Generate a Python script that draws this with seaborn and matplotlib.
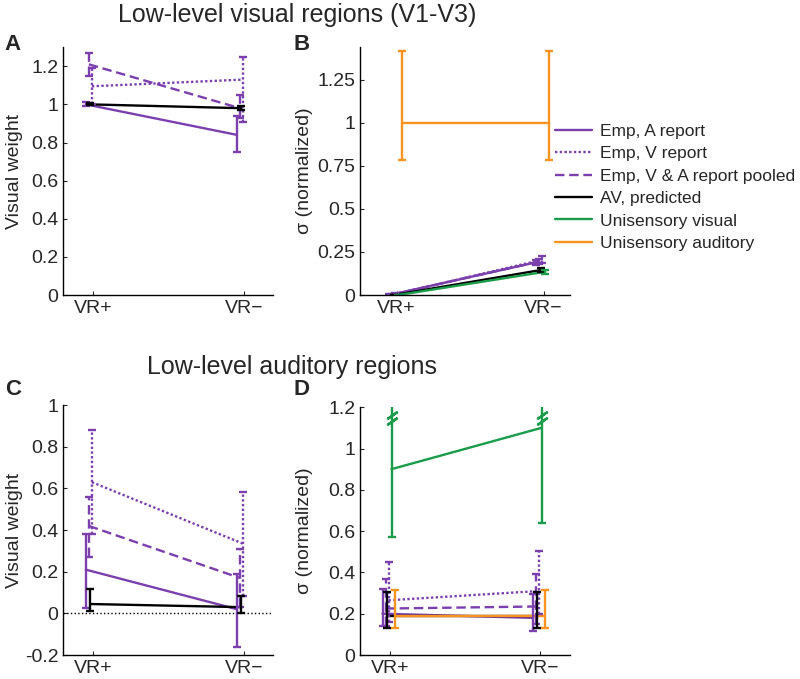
import numpy as np
import pandas as pd
import matplotlib
matplotlib.use("Agg")
import matplotlib.pyplot as plt
import seaborn as sns

# Data
conds = ["VR+", "VR\u2212"]
series = ["Emp, A report", "Emp, V report", "Emp, V & A report pooled",
          "AV, predicted", "Unisensory visual", "Unisensory auditory"]

# Panel A: low-level visual regions, visual weight (first 4 series)
a_mean = [[1.00, 0.84], [1.095, 1.13], [1.21, 0.98], [1.00, 0.98]]
a_lo = [[0.99, 0.75], [1.00, 0.91], [1.15, 0.93], [0.995, 0.97]]
a_hi = [[1.01, 0.94], [1.19, 1.25], [1.27, 1.05], [1.005, 0.99]]

# Panel B: low-level visual regions, sigma (all 6 series)
b_mean = [[0.0, 0.19], [0.005, 0.205], [0.003, 0.195], [0.0, 0.145], [0.0, 0.135], [1.0, 1.0]]
b_lo = [[0.0, 0.175], [0.0, 0.185], [0.0, 0.18], [0.0, 0.135], [0.0, 0.125], [0.785, 0.785]]
b_hi = [[0.005, 0.205], [0.01, 0.225], [0.008, 0.21], [0.0, 0.155], [0.0, 0.145], [1.415, 1.415]]

# Panel C: low-level auditory regions, visual weight
c_mean = [[0.21, 0.02], [0.63, 0.335], [0.42, 0.17], [0.045, 0.03]]
c_lo = [[0.025, -0.16], [0.38, 0.085], [0.27, 0.03], [0.01, 0.0]]
c_hi = [[0.38, 0.19], [0.88, 0.585], [0.56, 0.31], [0.115, 0.085]]

# Panel D: low-level auditory regions, sigma
d_mean = [[0.2, 0.18], [0.265, 0.31], [0.225, 0.235], [0.19, 0.19], [0.9, 1.1], [0.19, 0.19]]
d_lo = [[0.14, 0.115], [0.16, 0.20], [0.14, 0.15], [0.13, 0.13], [0.57, 0.64], [0.13, 0.13]]
d_hi = [[0.32, 0.295], [0.45, 0.505], [0.37, 0.39], [0.305, 0.305], [1.6, 1.6], [0.315, 0.315]]

# Styles
purple = "#7b3fae"
colors = dict(zip(series, [purple, purple, purple, "black", "#1a9c4a", "#f7931e"]))
dash_map = dict(zip(series, ["", (1, 1), (4, 2), "", "", ""]))
err_ls = dict(zip(series, ["-", (0, (1, 1)), (0, (4, 2)), "-", "-", "-"]))
offsets = dict(zip(series, [-0.05, -0.01, -0.03, -0.02, 0.01, 0.035]))
lw = 1.7

sns.set_style("ticks")
plt.rcParams["font.family"] = ["Liberation Sans", "DejaVu Sans"]
plt.rcParams["axes.unicode_minus"] = False

fig = plt.figure(figsize=(8, 6.79), dpi=100)


def draw_panel(ax, mean, lo, hi, ylim, yticks, ylabel, xlim, label_x):
    names = series[:len(mean)]
    rows = []
    for name, m in zip(names, mean):
        for i, v in enumerate(m):
            rows.append({"series": name, "x": i + offsets[name], "value": v})
    df = pd.DataFrame(rows)
    sns.lineplot(data=df, x="x", y="value", hue="series", style="series",
                 hue_order=names, style_order=names, palette=colors,
                 dashes=dash_map, linewidth=lw, legend=False, ax=ax)
    for name, m, l, h in zip(names, mean, lo, hi):
        m, l, h = np.array(m), np.array(l), np.array(h)
        xs = np.arange(len(m)) + offsets[name]
        eb = ax.errorbar(xs, m, yerr=[m - l, h - m], fmt="none", ecolor=colors[name],
                         elinewidth=lw, capsize=3, capthick=lw)
        eb.lines[2][0].set_linestyle(err_ls[name])
    ax.set_xlim(*xlim)
    ax.set_ylim(*ylim)
    ax.set_xticks([0, 1])
    ax.set_xticklabels(conds)
    ax.set_yticks(yticks)
    ax.set_yticklabels(["%g" % t for t in yticks])
    ax.set_xlabel("")
    ax.set_ylabel(ylabel, fontsize=14)
    ax.yaxis.set_label_coords(label_x, 0.5)
    ax.tick_params(direction="in", length=3, labelsize=14, width=0.8)
    sns.despine(ax=ax)
    for s in ["left", "bottom"]:
        ax.spines[s].set_linewidth(1.0)
        ax.spines[s].set_color("black")


axA = fig.add_axes([0.079, 0.5655, 0.2625, 0.365])
axB = fig.add_axes([0.45, 0.5655, 0.2625, 0.365])
axC = fig.add_axes([0.079, 0.0353, 0.2625, 0.368])
axD = fig.add_axes([0.45, 0.0353, 0.2625, 0.365])

draw_panel(axA, a_mean, a_lo, a_hi, (0, 1.3), [0, 0.2, 0.4, 0.6, 0.8, 1, 1.2],
           "Visual weight", (-0.2, 1.19), -0.19)
draw_panel(axB, b_mean, b_lo, b_hi, (0, 1.44), [0, 0.25, 0.5, 0.75, 1, 1.25],
           "\u03c3 (normalized)", (-0.25, 1.18), -0.224)
axC.axhline(0, color="black", ls=":", lw=1)
draw_panel(axC, c_mean, c_lo, c_hi, (-0.2, 1), [-0.2, 0, 0.2, 0.4, 0.6, 0.8, 1],
           "Visual weight", (-0.2, 1.19), -0.19)
draw_panel(axD, d_mean, d_lo, d_hi, (0, 1.2), [0, 0.2, 0.4, 0.6, 0.8, 1, 1.2],
           "\u03c3 (normalized)", (-0.2, 1.2), -0.224)

# axis break marks on the clipped unisensory visual error bars
top = axD.get_ylim()[1]
gx = np.arange(2) + offsets["Unisensory visual"]
for dy in (0.04, 0.065):
    axD.plot(gx, [top - dy] * 2, ls="none", marker=(2, 2, -55), ms=9,
             mew=lw, color=colors["Unisensory visual"], clip_on=False)

# legend
handles = [plt.Line2D([], [], color=colors[n], lw=lw, ls=err_ls[n]) for n in series]
fig.legend(handles, series, loc="upper left", bbox_to_anchor=(0.694, 0.818),
           frameon=False, fontsize=12.5, handlelength=2.1, handletextpad=0.5,
           labelspacing=0.42, borderpad=0, borderaxespad=0)

fig.text(0.372, 0.978, "Low-level visual regions (V1-V3)", fontsize=18, ha="center", va="center")
fig.text(0.365, 0.459, "Low-level auditory regions", fontsize=18, ha="center", va="center")
for lab, x, y in [("A", 0.006, 0.935), ("B", 0.367, 0.935), ("C", 0.006, 0.426), ("D", 0.367, 0.426)]:
    fig.text(x, y, lab, fontsize=16, fontweight="bold", ha="left", va="center")

fig.savefig("out.png", dpi=100)
